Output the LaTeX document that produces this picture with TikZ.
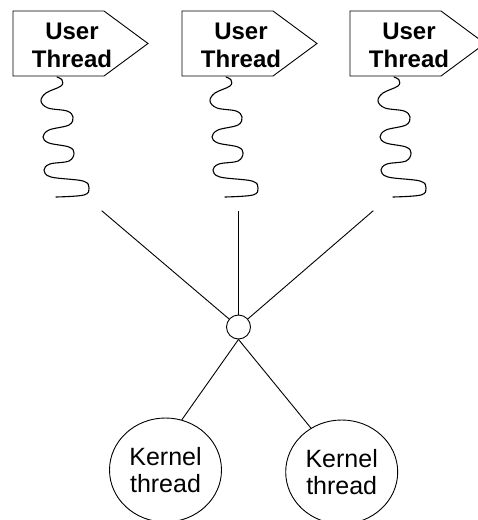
\documentclass[tikz,border=0pt]{standalone}
\usepackage{fontspec}
\setmainfont{Liberation Sans}
\usetikzlibrary{shapes.geometric}
\tikzset{
  wire/.style={draw=black, line width=0.9pt},
  flagline/.style={draw=black, line width=0.9pt, line join=miter},
  coil/.style={draw=black, line width=1.1pt, line cap=round},
  usertext/.style={inner sep=0pt, align=center, font=\fontsize{24}{28}\selectfont\bfseries},
  kernel/.style={ellipse, draw=black, line width=0.9pt, minimum width=112pt, minimum height=104pt,
    inner sep=0pt, align=center, font=\fontsize{25}{27.5}\selectfont},
  junction/.style={circle, draw=black, line width=0.9pt, minimum size=24pt, inner sep=0pt}
}
\begin{document}
\begin{tikzpicture}[x=1pt, y=-1pt]
  \useasboundingbox (0,0) rectangle (478,520);
  \clip (0,0) rectangle (478,520);

  % user threads: a flag with its label and a coil hanging below
  \foreach \L [count=\i] in {13,182,350} {
    \begin{scope}[shift={(\L,0)}]
      \draw[flagline] (0,11) -- (91,11) -- (135,43.5) -- (91,76) -- (0,76) -- cycle;
      \node[usertext] (u\i) at (59,45.5) {User\\Thread};
      \draw[coil] plot[smooth, tension=0.6] coordinates {
        (44,77) (49,80) (48,86) (33,93) (28,101) (35,108) (54,111) (60,117)
        (56,125) (36,130) (30,137) (36,143) (56,147) (61,153) (56,161)
        (37,164) (31,170) (38,177) (70,181) (76,188) (71,195) (43,197)};
    \end{scope}
  }

  % many-to-many junction
  \node[junction] (j) at (238.5,327) {};
  \coordinate (t1) at (101.7,210.7);
  \coordinate (t2) at (238.5,211);
  \coordinate (t3) at (373.3,210.7);
  \draw[wire] (t1) -- (j);
  \draw[wire] (t2) -- (j);
  \draw[wire] (t3) -- (j);

  % kernel threads
  \node[kernel] (k1) at (165.5,470) {Kernel\\thread};
  \node[kernel] (k2) at (341.7,472) {Kernel\\thread};
  \draw[wire] (j.south) -- (k1.72);
  \draw[wire] (j.south) -- (k2.125);
\end{tikzpicture}
\end{document}
